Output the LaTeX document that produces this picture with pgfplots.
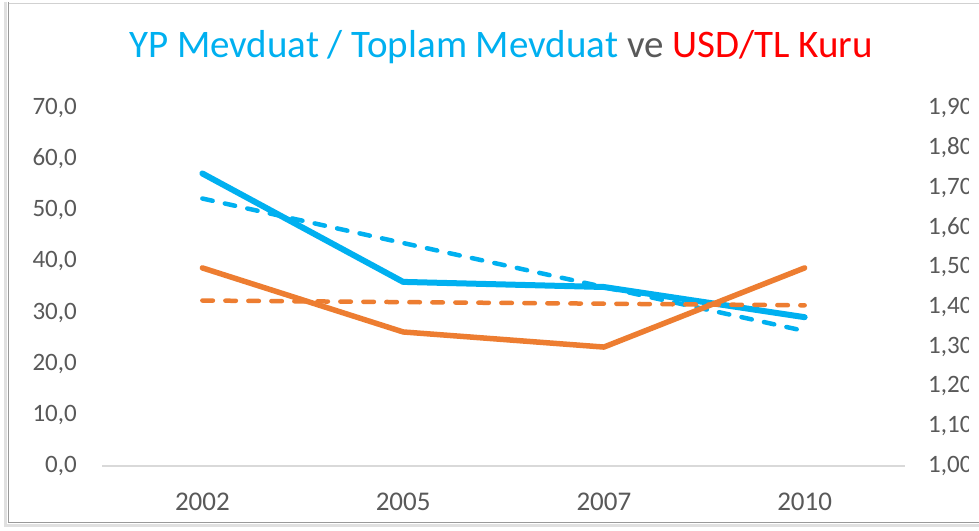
\documentclass[border=0pt]{standalone}
\usepackage{fontspec}
\setmainfont{Carlito}
\usepackage{pgfplots}
\pgfplotsset{compat=1.18}
\definecolor{cblue}{HTML}{00B0F0}
\definecolor{corange}{HTML}{ED7D31}
\definecolor{ctext}{HTML}{595959}
\definecolor{cred}{HTML}{FF0000}
\definecolor{cgrid}{HTML}{D9D9D9}
\begin{document}
\begin{tikzpicture}[x=1pt,y=1pt]
\useasboundingbox (0,0) rectangle (979,530);
\fill[white] (0,0) rectangle (979,530);
% frame
\draw[black!12, line width=3pt] (5.5,528) -- (5.5,4.5) -- (979,4.5);
\draw[black!40, line width=1.8pt] (8.5,528) -- (8.5,7.5) -- (979,7.5);
\draw[black!18, line width=0.8pt] (8.5,527) -- (979,527);
% title
\node[anchor=base, font=\fontsize{39}{46}\selectfont, inner sep=0pt] at (501,472)
  {\textcolor{cblue}{YP Mevduat / Toplam Mevduat} \textcolor{ctext}{ve} \textcolor{cred}{USD/TL Kuru}};
\begin{scope}
\clip (0,0) rectangle (968,530);
\begin{axis}[
  at={(102pt,64pt)}, anchor=south west,
  width=803pt, height=358pt, scale only axis,
  xmin=-0.5, xmax=3.5, ymin=0, ymax=70,
  xtick={0,1,2,3}, xticklabels={2002,2005,2007,2010},
  ytick={0,10,20,30,40,50,60,70},
  axis x line*=bottom, axis y line*=left,
  y axis line style={draw=none},
  x axis line style={draw=cgrid, line width=1.3pt, -},
  major tick length=0pt,
  tick label style={text=ctext},
  yticklabel style={font=\fontsize{25}{30}\selectfont, anchor=east, inner sep=0pt, xshift=-25pt},
  xticklabel style={font=\fontsize{27}{32}\selectfont, anchor=north, inner sep=0pt, yshift=-27pt},
  /pgf/number format/.cd, fixed, fixed zerofill, precision=1, use comma, assume math mode=true
]
\addplot[cblue, line width=6pt, line cap=round, line join=round] coordinates {(0,57.2) (1,36.0) (2,35.0) (3,29.1)};
\addplot[cblue, line width=4.5pt, line cap=round, dash pattern=on 10.5pt off 12.5pt] coordinates {(0,52.3) (1,43.6) (2,35.0) (3,26.4)};
\end{axis}
\begin{axis}[
  at={(102pt,64pt)}, anchor=south west,
  width=803pt, height=358pt, scale only axis,
  xmin=-0.5, xmax=3.5, ymin=1.0, ymax=1.9,
  ytick={1.0,1.1,1.2,1.3,1.4,1.5,1.6,1.7,1.8,1.9},
  axis x line=none, axis y line*=right,
  y axis line style={draw=none},
  major tick length=0pt,
  tick label style={text=ctext},
  yticklabel style={font=\fontsize{25}{30}\selectfont, anchor=west, inner sep=0pt, xshift=23pt},
  /pgf/number format/.cd, fixed, fixed zerofill, precision=2, use comma, assume math mode=true
]
\addplot[corange, line width=4.5pt, line cap=round, dash pattern=on 10.5pt off 12.5pt] coordinates {(0,1.416) (1,1.412) (2,1.408) (3,1.404)};
\addplot[corange, line width=5.5pt, line cap=round, line join=round] coordinates {(0,1.498) (1,1.337) (2,1.299) (3,1.498)};
\end{axis}
\end{scope}
\end{tikzpicture}
\end{document}
